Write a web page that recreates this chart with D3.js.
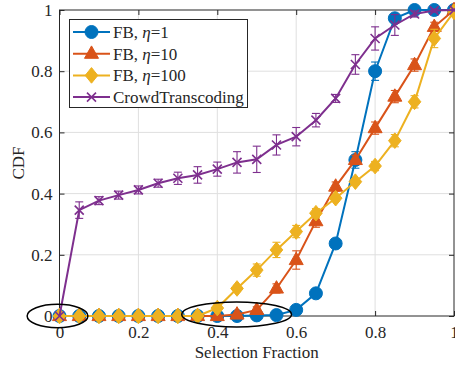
<!DOCTYPE html>
<html>
<head>
<meta charset="utf-8">
<script src="https://cdn.jsdelivr.net/npm/d3@7"></script>
<style>
  body { margin: 0; background: #fff; }
</style>
</head>
<body>
<svg id="chart"></svg>
<script>
// selection fraction (x) for every series
const fractions = [0, 0.05, 0.1, 0.15, 0.2, 0.25, 0.3, 0.35, 0.4, 0.45, 0.5,
                   0.55, 0.6, 0.65, 0.7, 0.75, 0.8, 0.85, 0.9, 0.95, 1];

const fbEta1     = [0, 0, 0, 0, 0, 0, 0, 0, 0, 0, 0.002, 0.003, 0.02, 0.074, 0.237, 0.51, 0.80, 0.973, 1, 1, 1];
const fbEta1Err  = [0, 0, 0, 0, 0, 0, 0, 0, 0, 0, 0, 0, 0.005, 0.01, 0.01, 0.027, 0.03, 0.01, 0, 0, 0];
const fbEta10    = [0, 0, 0, 0, 0, 0, 0, 0, 0, 0.005, 0.02, 0.09, 0.183, 0.31, 0.423, 0.51, 0.614, 0.717, 0.82, 0.945, 1];
const fbEta10Err = [0, 0, 0, 0, 0, 0, 0, 0, 0, 0, 0.01, 0.015, 0.03, 0.02, 0.015, 0.015, 0.02, 0.02, 0.02, 0.015, 0];
const fbEta100   = [0, 0, 0, 0, 0, 0, 0, 0, 0.026, 0.09, 0.15, 0.216, 0.276, 0.336, 0.385, 0.439, 0.49, 0.573, 0.70, 0.907, 0.994];
const fbEta100Err= [0, 0, 0, 0, 0, 0, 0, 0, 0.01, 0.01, 0.02, 0.025, 0.02, 0.015, 0.01, 0.01, 0.015, 0.02, 0.02, 0.03, 0.005];
const crowd      = [0, 0.346, 0.377, 0.395, 0.412, 0.434, 0.45, 0.461, 0.48, 0.502, 0.512,
                    0.559, 0.586, 0.64, 0.711, 0.822, 0.907, 0.951, 0.987, 0.998, 1];
const crowdErr   = [0, 0.027, 0.013, 0.013, 0.013, 0.013, 0.02, 0.027, 0.023, 0.035, 0.043,
                    0.033, 0.03, 0.022, 0.013, 0.032, 0.038, 0.034, 0.01, 0.005, 0];

const tickValues = [0, 0.2, 0.4, 0.6, 0.8, 1];
const tickLabels = ['0', '0.2', '0.4', '0.6', '0.8', '1'];

// ellipse annotations in data units: centre x, centre y, radius x, radius y
const ellipseCx = [-0.005, 0.449];
const ellipseCy = [0, 0.005];
const ellipseRx = [0.077, 0.139];
const ellipseRy = [0.038, 0.041];

const series = [
    {name: 'FB, ', eta: '1',   values: fbEta1,   err: fbEta1Err,   color: '#0072BD', marker: 'circle'},
    {name: 'FB, ', eta: '10',  values: fbEta10,  err: fbEta10Err,  color: '#D95319', marker: 'triangle'},
    {name: 'FB, ', eta: '100', values: fbEta100, err: fbEta100Err, color: '#EDB120', marker: 'diamond'},
    {name: 'CrowdTranscoding', eta: null, values: crowd, err: crowdErr, color: '#7E2F8E', marker: 'cross'}
];

const FONT = '"Liberation Serif", "Times New Roman", Times, serif';
const width = 455, height = 365;
const svg = d3.select('#chart').attr('width', width).attr('height', height);

const x = d3.scaleLinear().domain([0, 1]).range([59.5, 454]);
const y = d3.scaleLinear().domain([0, 1]).range([316, 10]);

// grid
const grid = svg.append('g').attr('stroke', '#dfdfdf').attr('stroke-width', 1);
grid.selectAll('.gx').data(tickValues.slice(1, -1)).join('line')
    .attr('x1', d => x(d)).attr('x2', d => x(d)).attr('y1', y(0)).attr('y2', y(1));
grid.selectAll('.gy').data(tickValues.slice(1, -1)).join('line')
    .attr('y1', d => y(d)).attr('y2', d => y(d)).attr('x1', x(0)).attr('x2', x(1));

// axes with inward ticks, box on
const fmt = d => tickLabels[tickValues.indexOf(d)];
const styleAxis = g => {
    g.attr('font-family', null);
    g.select('.domain').remove();
    g.selectAll('line').attr('stroke', '#262626');
    g.selectAll('text').attr('font-size', 17).attr('fill', '#262626');
};
svg.append('g').attr('transform', `translate(0,${y(0)})`)
    .call(d3.axisBottom(x).tickValues(tickValues).tickFormat(fmt).tickSize(-5).tickPadding(10))
    .call(styleAxis);
svg.append('g').attr('transform', `translate(${x(0)},0)`)
    .call(d3.axisLeft(y).tickValues(tickValues).tickFormat(fmt).tickSize(-5).tickPadding(7))
    .call(styleAxis);
svg.append('g').attr('transform', `translate(0,${y(1)})`)
    .call(d3.axisTop(x).tickValues(tickValues).tickFormat('').tickSize(-5))
    .call(styleAxis);
svg.append('g').attr('transform', `translate(${x(1)},0)`)
    .call(d3.axisRight(y).tickValues(tickValues).tickFormat('').tickSize(-5))
    .call(styleAxis);

svg.append('rect')
    .attr('x', x(0)).attr('y', y(1))
    .attr('width', x(1) - x(0)).attr('height', y(0) - y(1))
    .attr('fill', 'none').attr('stroke', '#262626').attr('stroke-width', 1);

// axis labels
svg.append('text')
    .attr('x', (x(0) + x(1)) / 2).attr('y', 358)
    .attr('text-anchor', 'middle').attr('font-size', 17)
    .text('Selection Fraction');
svg.append('text')
    .attr('transform', `translate(24,${(y(0) + y(1)) / 2}) rotate(-90)`)
    .attr('text-anchor', 'middle').attr('font-size', 17)
    .text('CDF');

function markerPath(type) {
    if (type === 'circle') return d3.symbol(d3.symbolCircle, Math.PI * 6.5 * 6.5)();
    if (type === 'triangle') return 'M0,-7.8L7,4.6L-7,4.6Z';
    if (type === 'diamond') return 'M0,-7.8L6.3,0L0,7.8L-6.3,0Z';
    return 'M-4.5,-4.5L4.5,4.5M-4.5,4.5L4.5,-4.5';
}

function drawMarker(g, s) {
    const p = g.append('path').attr('d', markerPath(s.marker)).attr('stroke', s.color);
    if (s.marker === 'cross') p.attr('fill', 'none').attr('stroke-width', 1.6);
    else p.attr('fill', s.color).attr('stroke-width', 1);
}

const line = d3.line().x(d => x(d.x)).y(d => y(d.y));

series.forEach(s => {
    const pts = fractions.map((f, i) => ({x: f, y: s.values[i], e: s.err[i]}));
    const g = svg.append('g');

    // error bars
    const eb = g.selectAll('.eb').data(pts.filter(d => d.e > 0)).join('g')
        .attr('stroke', s.color).attr('stroke-width', 1.1);
    eb.append('line')
        .attr('x1', d => x(d.x)).attr('x2', d => x(d.x))
        .attr('y1', d => y(d.y - d.e)).attr('y2', d => y(d.y + d.e));
    eb.append('line')
        .attr('x1', d => x(d.x) - 4).attr('x2', d => x(d.x) + 4)
        .attr('y1', d => y(d.y - d.e)).attr('y2', d => y(d.y - d.e));
    eb.append('line')
        .attr('x1', d => x(d.x) - 4).attr('x2', d => x(d.x) + 4)
        .attr('y1', d => y(d.y + d.e)).attr('y2', d => y(d.y + d.e));

    g.append('path').datum(pts).attr('d', line)
        .attr('fill', 'none').attr('stroke', s.color).attr('stroke-width', 2);

    pts.forEach(d => {
        const m = g.append('g').attr('transform', `translate(${x(d.x)},${y(d.y)})`);
        drawMarker(m, s);
    });
});

// ellipse annotations
svg.append('g').selectAll('ellipse').data(ellipseCx).join('ellipse')
    .attr('cx', (d, i) => x(d)).attr('cy', (d, i) => y(ellipseCy[i]))
    .attr('rx', (d, i) => x(ellipseRx[i]) - x(0))
    .attr('ry', (d, i) => y(0) - y(ellipseRy[i]))
    .attr('fill', 'none').attr('stroke', '#000').attr('stroke-width', 1.5);

// legend
const legend = svg.append('g');
legend.append('rect')
    .attr('x', 69.5).attr('y', 19.5).attr('width', 178).attr('height', 88)
    .attr('fill', '#fff').attr('stroke', '#262626').attr('stroke-width', 1);
series.forEach((s, i) => {
    const ly = 32 + i * 21.7;
    const row = legend.append('g');
    row.append('line').attr('x1', 73).attr('x2', 110).attr('y1', ly).attr('y2', ly)
        .attr('stroke', s.color).attr('stroke-width', 2);
    drawMarker(row.append('g').attr('transform', `translate(91.5,${ly})`), s);
    const t = row.append('text').attr('x', 113).attr('y', ly + 6).attr('font-size', 17);
    t.append('tspan').text(s.name);
    if (s.eta !== null) {
        t.append('tspan').attr('font-style', 'italic').text('η');
        t.append('tspan').text('=' + s.eta);
    }
});

// serif text everywhere, as in the reference
svg.selectAll('text').style('font-family', FONT).style('fill', '#262626');
</script>
</body>
</html>
